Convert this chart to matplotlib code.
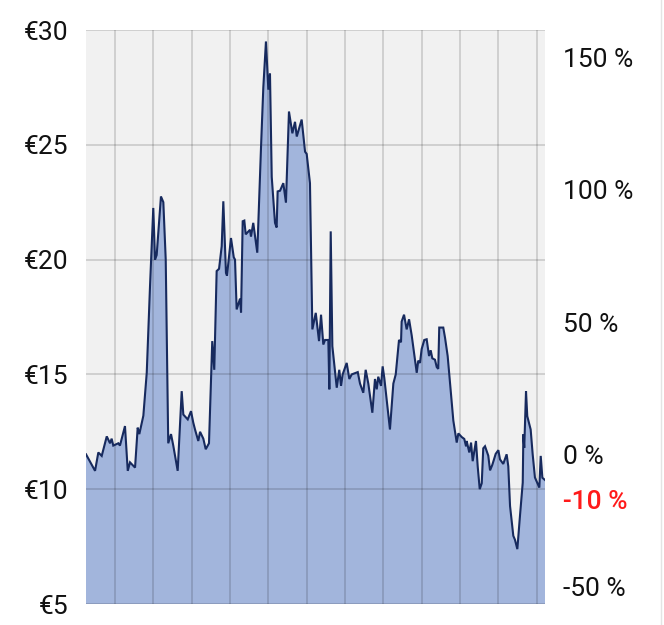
import matplotlib
matplotlib.use("Agg")
import matplotlib.pyplot as plt
import matplotlib.transforms as mtransforms
from matplotlib.lines import Line2D
from matplotlib.ticker import FuncFormatter
import numpy as np

# ---- data (day offset within the year, price in EUR) ----
days = [0, 7.2, 9.8, 12.5, 16.5, 19.1, 20.4, 21.7, 25.7, 27.0, 31.0, 33.2, 35.0, 39.0, 41.1,
        42.4, 45.6, 48.3, 50.9, 53.5, 54.9, 56.2, 59.6, 61.5, 63.4, 65.4, 67.6, 69.4, 72.9,
        76.1, 77.4, 80.9, 83.5, 85.3, 86.7, 89.3, 90.7, 93.3, 95.2, 97.8, 100.4, 102.0, 103.9,
        105.8, 107.9, 109.2, 111.3, 112.1, 115.3, 117.5, 118.5, 119.8, 122.5, 123.3, 124.6,
        125.9, 127.0, 130.4, 131.2, 133.0, 136.2, 139.2, 141.0, 143.1, 145.0, 146.3, 147.7,
        150.3, 151.6, 152.4, 154.3, 156.9, 159.0, 161.4, 164.1, 166.2, 167.6, 171.5, 174.2,
        175.5, 178.1, 180.0, 182.7, 185.3, 186.9, 188.7, 190.1, 192.7, 193.5, 194.6, 195.9,
        199.4, 201.4, 202.8, 204.1, 207.3, 209.4, 211.3, 216.1, 217.9, 220.5, 222.4, 224.5,
        227.7, 229.8, 231.2, 232.4, 234.6, 235.9, 237.2, 239.1, 241.7, 244.4, 246.3, 248.9,
        250.5, 251.0, 252.9, 255.0, 256.9, 259.0, 263.0, 264.2, 265.6, 266.9, 269.0, 270.9,
        272.8, 274.1, 275.4, 277.5, 278.9, 280.1, 280.9, 284.1, 285.5, 287.6, 288.9, 292.1,
        294.8, 296.1, 298.8, 300.8, 302.2, 302.7, 304.8, 306.2, 307.5, 310.1, 311.5, 313.1,
        314.7, 315.9, 317.3, 319.9, 321.3, 323.1, 325.8, 327.9, 329.2, 331.8, 334.5, 335.8,
        337.2, 339.8, 341.1, 343.0, 345.1, 347.3, 347.8, 348.5, 349.9, 350.9, 353.6, 355.2,
        357.0, 360.5, 361.6, 362.9, 365.0]
prices = [11.52, 10.8, 11.6, 11.45, 12.3, 12.0, 12.2, 11.9, 12.0, 11.9, 12.75, 10.8, 11.17,
          10.94, 12.68, 12.4, 13.2, 15.07, 18.84, 22.25, 20.0, 20.2, 22.75, 22.5, 20.0, 12.0,
          12.4, 11.9, 10.8, 14.27, 13.25, 13.04, 13.4, 12.9, 12.6, 12.1, 12.5, 12.2, 11.74,
          12.0, 16.45, 15.2, 19.5, 19.6, 20.58, 22.54, 19.42, 19.3, 20.94, 20.1, 20.0, 17.83,
          18.3, 17.7, 21.67, 21.7, 21.1, 21.3, 21.0, 21.6, 20.3, 24.93, 27.5, 29.5, 27.4, 28.1,
          23.6, 21.6, 21.4, 22.97, 23.0, 23.33, 22.48, 26.45, 25.5, 26.0, 25.36, 26.1, 24.7,
          24.6, 23.33, 16.96, 17.68, 16.45, 17.6, 16.3, 16.5, 16.5, 14.35, 21.23, 16.23, 14.42,
          15.2, 14.5, 15.0, 15.5, 14.8, 15.0, 15.1, 14.6, 14.2, 15.2, 14.6, 13.33, 14.8, 14.35,
          14.9, 14.5, 15.35, 14.85, 13.9, 12.6, 14.6, 15.0, 16.5, 16.4, 17.3, 17.6, 16.96, 17.4,
          16.7, 15.07, 15.6, 15.5, 16.1, 16.5, 16.53, 15.8, 16.05, 15.7, 15.64, 15.32, 15.24,
          17.04, 17.04, 16.6, 15.8, 15.0, 12.99, 12.03, 12.43, 12.27, 12.19, 11.87, 12.1, 11.6,
          12.03, 11.22, 12.1, 10.98, 10.0, 10.26, 11.78, 11.87, 11.46, 10.82, 11.06, 11.54,
          11.7, 11.3, 11.1, 11.52, 11.0, 9.27, 7.97, 7.8, 7.39, 8.84, 10.29, 12.39, 11.8, 14.27,
          13.18, 12.6, 11.52, 10.51, 10.07, 11.45, 10.5, 10.4]

price_ticks = [5, 10, 15, 20, 25, 30]
pct_ticks = [150, 100, 50, 0, -50]
grid_days = [23.0 + 30.5 * k for k in range(12)]

plt.rcParams['font.family'] = ['Roboto', 'DejaVu Sans']

fig = plt.figure(figsize=(6.64, 6.25), dpi=100)
ax = fig.add_axes([86 / 664, 21 / 625, 459 / 664, 574 / 625])
ax.set_facecolor('#f1f1f1')

fill_color = '#a2b5dc'
line_color = '#172a5e'
ax.fill_between(days, prices, 0, color=fill_color, linewidth=0, zorder=1)
ax.plot(days, prices, color=line_color, linewidth=1.5, zorder=3, solid_joinstyle='miter')

ax.set_xlim(0, 365)
ax.set_ylim(5, 30)
ax.set_yticks(price_ticks)
ax.yaxis.set_major_formatter(FuncFormatter(lambda v, p: f"€{v:g}"))
ax.set_xticks(grid_days)
ax.set_xticklabels([])
ax.tick_params(axis='both', length=0)
ax.tick_params(axis='y', labelsize=19, pad=13, labelcolor='#111111')
ax.set_axisbelow(False)
ax.grid(True, color='black', alpha=0.15, linewidth=1.3, zorder=2)
for s in ax.spines.values():
    s.set_visible(False)

base = prices[0]
ax2 = ax.twinx()
ax2.set_ylim((5 / base - 1) * 100, (30 / base - 1) * 100)
ax2.set_yticks(pct_ticks)
ax2.set_yticklabels([f"{t} %" for t in pct_ticks])
ax2.tick_params(axis='y', length=0, labelsize=19, pad=13, labelcolor='#111111')
for s in ax2.spines.values():
    s.set_visible(False)

cur_pct = round((prices[-1] / base - 1) * 100)
trans = mtransforms.blended_transform_factory(ax2.transAxes, ax2.transData)
ax2.annotate(f"{cur_pct} %", xy=(1, cur_pct), xycoords=trans,
             xytext=(18, -21), textcoords='offset pixels',
             ha='left', va='center', fontsize=19, color='#ff1a1a', fontweight='medium')

fig.add_artist(Line2D([661 / 664, 661 / 664], [0, 1], transform=fig.transFigure,
                      color='#e4e4e4', linewidth=1))

fig.savefig('out.png', dpi=100)
